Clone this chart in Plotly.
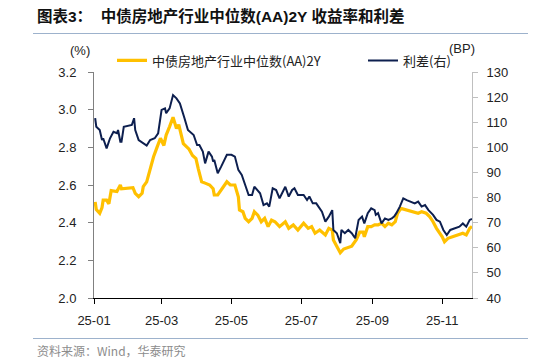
import plotly.graph_objects as go

# ---------------- data ----------------
yield_dates = [
    "2025-01-02", "2025-01-03", "2025-01-06", "2025-01-08", "2025-01-09", "2025-01-12",
    "2025-01-14", "2025-01-16", "2025-01-21", "2025-01-24", "2025-01-25", "2025-02-04",
    "2025-02-06", "2025-02-09", "2025-02-12", "2025-02-13", "2025-02-16", "2025-02-18",
    "2025-02-22", "2025-02-25", "2025-02-28", "2025-03-03", "2025-03-05", "2025-03-08",
    "2025-03-11", "2025-03-14", "2025-03-16", "2025-03-20", "2025-03-22", "2025-03-25",
    "2025-03-28", "2025-03-31", "2025-04-02", "2025-04-05", "2025-04-08", "2025-04-12",
    "2025-04-15", "2025-04-16", "2025-04-19", "2025-04-24", "2025-04-27", "2025-04-30",
    "2025-05-04", "2025-05-07", "2025-05-08", "2025-05-11", "2025-05-13", "2025-05-16",
    "2025-05-19", "2025-05-21", "2025-05-24", "2025-05-27", "2025-05-30", "2025-06-02",
    "2025-06-05", "2025-06-08", "2025-06-12", "2025-06-17", "2025-06-20", "2025-06-24",
    "2025-06-28", "2025-07-03", "2025-07-07", "2025-07-10", "2025-07-13", "2025-07-17",
    "2025-07-22", "2025-07-25", "2025-07-28", "2025-07-29", "2025-08-01", "2025-08-04",
    "2025-08-07", "2025-08-11", "2025-08-14", "2025-08-18", "2025-08-21", "2025-08-24",
    "2025-08-25", "2025-08-28", "2025-08-31", "2025-09-03", "2025-09-06", "2025-09-09",
    "2025-09-12", "2025-09-15", "2025-09-18", "2025-09-21", "2025-09-23", "2025-09-26",
    "2025-10-01", "2025-10-07", "2025-10-11", "2025-10-14", "2025-10-18", "2025-10-21",
    "2025-10-24", "2025-10-27", "2025-11-01", "2025-11-03", "2025-11-06", "2025-11-10",
    "2025-11-15", "2025-11-19", "2025-11-22", "2025-11-25", "2025-11-27",
]
yield_vals = [
    2.51, 2.47, 2.45, 2.48, 2.52, 2.52,
    2.50, 2.57, 2.565, 2.60, 2.58, 2.586,
    2.556, 2.538, 2.556, 2.591, 2.617, 2.662,
    2.75, 2.80, 2.848, 2.81, 2.865, 2.91,
    2.96, 2.90, 2.92, 2.82, 2.81, 2.79,
    2.757, 2.74, 2.687, 2.617, 2.61, 2.60,
    2.58, 2.547, 2.547, 2.591, 2.617, 2.60,
    2.60, 2.538, 2.467, 2.458, 2.423, 2.405,
    2.423, 2.458, 2.44, 2.405, 2.423, 2.379,
    2.414, 2.405, 2.379, 2.405, 2.37, 2.388,
    2.361, 2.397, 2.37, 2.379, 2.344, 2.361,
    2.335, 2.37, 2.361, 2.308, 2.272, 2.24,
    2.26, 2.27, 2.275, 2.31, 2.35, 2.35,
    2.325, 2.379, 2.379, 2.388, 2.388, 2.397,
    2.379, 2.397, 2.388, 2.405, 2.45, 2.476,
    2.467, 2.458, 2.45, 2.458, 2.45, 2.432,
    2.405, 2.37, 2.325, 2.299, 2.317, 2.325,
    2.335, 2.344, 2.335, 2.37, 2.38,
]

spread_dates = [
    "2025-01-02", "2025-01-03", "2025-01-06", "2025-01-08", "2025-01-09", "2025-01-12",
    "2025-01-15", "2025-01-18", "2025-01-21", "2025-01-22", "2025-01-24", "2025-01-25",
    "2025-01-27", "2025-02-03", "2025-02-05", "2025-02-06", "2025-02-09", "2025-02-13",
    "2025-02-16", "2025-02-19", "2025-02-23", "2025-02-26", "2025-03-01", "2025-03-04",
    "2025-03-05", "2025-03-08", "2025-03-11", "2025-03-14", "2025-03-17", "2025-03-21",
    "2025-03-24", "2025-03-29", "2025-04-01", "2025-04-03", "2025-04-06", "2025-04-08",
    "2025-04-11", "2025-04-14", "2025-04-15", "2025-04-16", "2025-04-19", "2025-04-22",
    "2025-04-27", "2025-05-01", "2025-05-04", "2025-05-07", "2025-05-10", "2025-05-13",
    "2025-05-16", "2025-05-19", "2025-05-21", "2025-05-26", "2025-05-29", "2025-06-01",
    "2025-06-03", "2025-06-06", "2025-06-09", "2025-06-12", "2025-06-17", "2025-06-20",
    "2025-06-23", "2025-06-25", "2025-06-28", "2025-07-03", "2025-07-06", "2025-07-08",
    "2025-07-11", "2025-07-14", "2025-07-19", "2025-07-22", "2025-07-25", "2025-07-28",
    "2025-07-29", "2025-08-01", "2025-08-04", "2025-08-05", "2025-08-08", "2025-08-11",
    "2025-08-14", "2025-08-17", "2025-08-20", "2025-08-23", "2025-08-25", "2025-08-28",
    "2025-08-31", "2025-09-03", "2025-09-04", "2025-09-06", "2025-09-09", "2025-09-12",
    "2025-09-15", "2025-09-18", "2025-09-20", "2025-09-22", "2025-09-25", "2025-09-28",
    "2025-10-01", "2025-10-08", "2025-10-11", "2025-10-14", "2025-10-17", "2025-10-20",
    "2025-10-24", "2025-10-27", "2025-10-30", "2025-11-02", "2025-11-05", "2025-11-08",
    "2025-11-12", "2025-11-16", "2025-11-19", "2025-11-22", "2025-11-25", "2025-11-27",
]
spread_vals = [
    111.6, 108.2, 106.9, 102.9, 103.6, 99.6,
    103.6, 106.2, 105.6, 106.9, 102.2, 102.2,
    108.2, 108.9, 111.6, 106.9, 102.9, 101.6,
    100.7, 102.9, 103.6, 105.6, 114.9, 115.5,
    113.6, 115.5, 120.8, 119.5, 117.5, 111.6,
    106.9, 104.9, 100.9, 100.9, 98.3, 93.6,
    98.3, 96.3, 94.3, 95.0, 89.7, 92.3,
    97.0, 97.0, 96.3, 91.0, 89.0, 85.0,
    81.0, 81.0, 84.3, 81.7, 77.0, 77.7,
    76.4, 83.7, 83.0, 79.7, 84.3, 80.4,
    83.0, 83.7, 81.0, 81.0, 79.0, 80.4,
    77.7, 77.7, 74.4, 70.4, 72.4, 75.0,
    67.1, 65.8, 61.8, 67.1, 65.8, 67.1,
    65.8, 63.8, 71.1, 72.4, 69.7, 73.8,
    75.7, 75.0, 73.1, 73.8, 69.7, 71.7,
    71.1, 71.7, 72.4, 73.8, 76.4, 79.7,
    79.0, 77.7, 78.4, 76.4, 77.0, 75.0,
    73.1, 71.1, 70.4, 67.1, 65.1, 67.1,
    67.8, 68.4, 69.7, 68.4, 71.1, 71.5,
]

x_tick_dates = ["2025-01-01", "2025-03-01", "2025-05-01", "2025-07-01", "2025-09-01", "2025-11-01"]
x_tick_text = ["25-01", "25-03", "25-05", "25-07", "25-09", "25-11"]
left_ticks = [2.0, 2.2, 2.4, 2.6, 2.8, 3.0, 3.2]
right_ticks = [40, 50, 60, 70, 80, 90, 100, 110, 120, 130]

yield_name = "中债房地产行业中位数(AA)2Y"
spread_name = "利差(右)"
title_text = "图表3：  中债房地产行业中位数(AA)2Y 收益率和利差"
source_text = "资料来源：Wind，华泰研究"

# ---------------- figure ----------------
LAT = "Liberation Sans, Arial, Noto Sans CJK SC"
CJK = "Noto Sans CJK SC, Liberation Sans"

W, H = 534, 361
L, R, T, B = 94, 62, 72, 63
pw, ph = W - L - R, H - T - B


def px(x):
    return (x - L) / pw


def py(y):
    return (H - B - y) / ph


fig = go.Figure()
fig.add_trace(go.Scatter(
    x=yield_dates, y=yield_vals, mode="lines", name=yield_name,
    line=dict(color="#FFC000", width=3.2), legend="legend",
))
fig.add_trace(go.Scatter(
    x=spread_dates, y=spread_vals, mode="lines", name=spread_name, yaxis="y2",
    line=dict(color="#0D1F4F", width=2), legend="legend2",
))

legend_common = dict(
    orientation="h", xanchor="left", yanchor="middle",
    font=dict(family=CJK, size=13, color="#222222"),
    bgcolor="rgba(0,0,0,0)", borderwidth=0,
)

fig.update_layout(
    width=W, height=H, autosize=False,
    margin=dict(l=L, r=R, t=T, b=B, pad=0),
    paper_bgcolor="white", plot_bgcolor="white",
    font=dict(family=LAT, size=13, color="#222222"),
    showlegend=True,
    legend=dict(x=px(112), y=py(60.5), **legend_common),
    legend2=dict(x=px(363), y=py(60.5), **legend_common),
    xaxis=dict(
        type="date", range=["2025-01-01", "2025-11-27"],
        tickvals=x_tick_dates, ticktext=x_tick_text,
        showline=True, linecolor="#000000", linewidth=1,
        ticks="outside", ticklen=5, tickcolor="#000000",
        showgrid=False, zeroline=False,
        tickfont=dict(family=LAT, size=13, color="#222222"),
        ticklabelstandoff=5,
    ),
    yaxis=dict(
        range=[2.0, 3.2], tickvals=left_ticks,
        ticktext=[f"{v:.1f}" for v in left_ticks],
        showline=True, linecolor="#808080", linewidth=1,
        ticks="outside", ticklen=5, tickcolor="#808080",
        showgrid=False, zeroline=False,
        tickfont=dict(family=LAT, size=13, color="#222222"),
        ticklabelstandoff=9,
    ),
    yaxis2=dict(
        range=[40, 130], tickvals=right_ticks,
        ticktext=[str(v) for v in right_ticks],
        overlaying="y", side="right",
        showline=True, linecolor="#BFBFBF", linewidth=1,
        ticks="outside", ticklen=5, tickcolor="#BFBFBF",
        showgrid=False, zeroline=False,
        tickfont=dict(family=LAT, size=13, color="#222222"),
        ticklabelstandoff=6,
    ),
)

fig.add_annotation(
    text=f"<b>{title_text}</b>", xref="paper", yref="paper",
    x=px(35), y=py(16), xanchor="left", yanchor="middle", showarrow=False,
    font=dict(family=LAT, size=15.5, color="#111111"),
)
fig.add_annotation(
    text="(%)", xref="paper", yref="paper", x=px(80), y=py(50),
    xanchor="center", yanchor="middle", showarrow=False,
    font=dict(family=LAT, size=13, color="#222222"),
)
fig.add_annotation(
    text="(BP)", xref="paper", yref="paper", x=px(462), y=py(48.5),
    xanchor="center", yanchor="middle", showarrow=False,
    font=dict(family=LAT, size=13, color="#222222"),
)
fig.add_annotation(
    text=source_text, xref="paper", yref="paper", x=px(35), y=py(350.5),
    xanchor="left", yanchor="middle", showarrow=False,
    font=dict(family=CJK, size=12, color="#8C8C8C"),
)
for yy in (33.5, 338.5):
    fig.add_shape(
        type="line", xref="paper", yref="paper",
        x0=px(33), x1=px(528), y0=py(yy), y1=py(yy),
        line=dict(color="#9DB2CC", width=1.2),
    )

fig.write_html(
    "out.html",
    config={"displayModeBar": False},
    post_script="document.body.style.margin='0';document.body.style.overflow='hidden';",
)
